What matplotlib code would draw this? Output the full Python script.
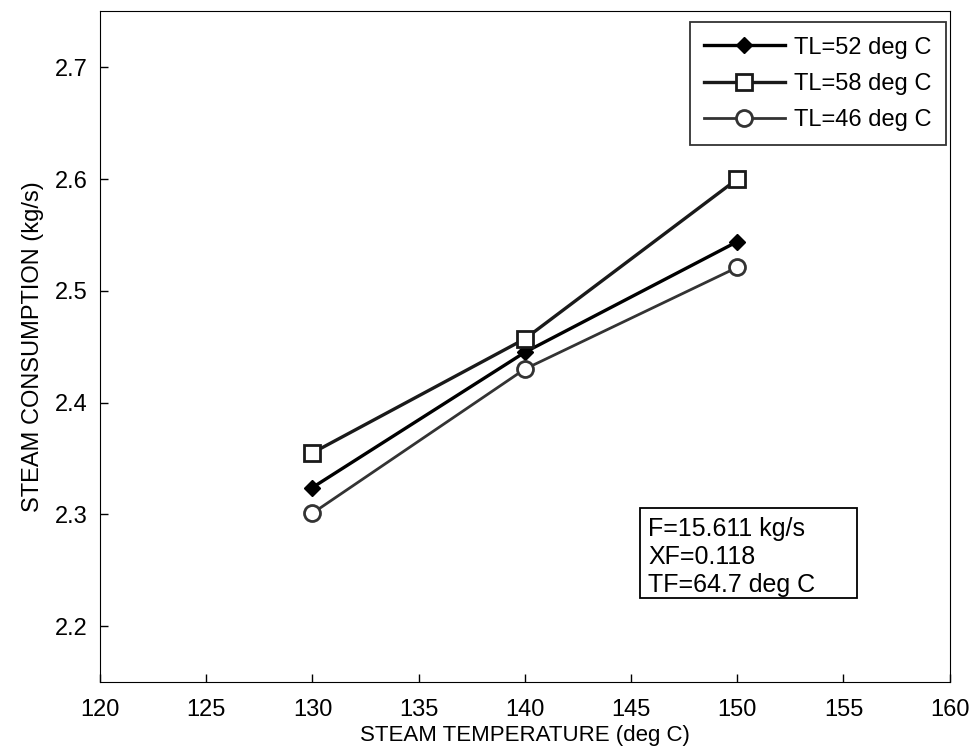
import matplotlib
matplotlib.use('Agg')
import matplotlib.pyplot as plt
from matplotlib.patches import Rectangle

plt.rcParams['font.family'] = ['Liberation Sans', 'DejaVu Sans']

# steam temperature (deg C)
steam_temp = [130, 140, 150]

# steam consumption (kg/s) for each TL
tl52 = [2.324, 2.445, 2.544]
tl58 = [2.355, 2.457, 2.600]
tl46 = [2.301, 2.430, 2.521]

labels = ['TL=52 deg C', 'TL=58 deg C', 'TL=46 deg C']
x_ticks = [120, 125, 130, 135, 140, 145, 150, 155, 160]
y_ticks = [2.2, 2.3, 2.4, 2.5, 2.6, 2.7]

fig = plt.figure(figsize=(9.75, 7.5), dpi=100)
ax = fig.add_axes([0.1026, 0.0907, 0.8714, 0.894])

ax.plot(steam_temp, tl52, color='black', lw=2.4, marker='D', ms=8,
        mfc='black', mec='black', label=labels[0])
ax.plot(steam_temp, tl58, color='#1a1a1a', lw=2.4, marker='s', ms=12,
        mfc='white', mec='#1a1a1a', mew=2.0, label=labels[1])
ax.plot(steam_temp, tl46, color='#333333', lw=2.0, marker='o', ms=11.5,
        mfc='white', mec='#333333', mew=2.0, label=labels[2])

ax.set_xlim(120, 160)
ax.set_ylim(2.15, 2.75)
ax.set_xticks(x_ticks)
ax.set_yticks(y_ticks)
ax.tick_params(direction='in', length=6, labelsize=17, width=1)
ax.tick_params(axis='x', pad=12)
ax.tick_params(axis='y', pad=9)
ax.set_xlabel('STEAM TEMPERATURE (deg C)', fontsize=16, labelpad=3)
ax.set_ylabel('STEAM CONSUMPTION (kg/s)', fontsize=17, labelpad=8)

leg = ax.legend(loc='upper right', bbox_to_anchor=(0.9953, 0.9836),
                fontsize=17, frameon=True, fancybox=False, edgecolor='black',
                handlelength=3.4, borderpad=0.6, labelspacing=0.6,
                handletextpad=0.4, borderaxespad=0)
leg.get_frame().set_linewidth(1.3)

# parameter box
ax.add_patch(Rectangle((0.635, 0.1252), 0.2556, 0.1341, transform=ax.transAxes,
                       fc='white', ec='black', lw=1.3, zorder=4))
ax.text(0.645, 0.2459, 'F=15.611 kg/s\nXF=0.118\nTF=64.7 deg C',
        transform=ax.transAxes, fontsize=18, va='top', ha='left',
        linespacing=1.22, zorder=5)

fig.savefig('out.png', dpi=100)
